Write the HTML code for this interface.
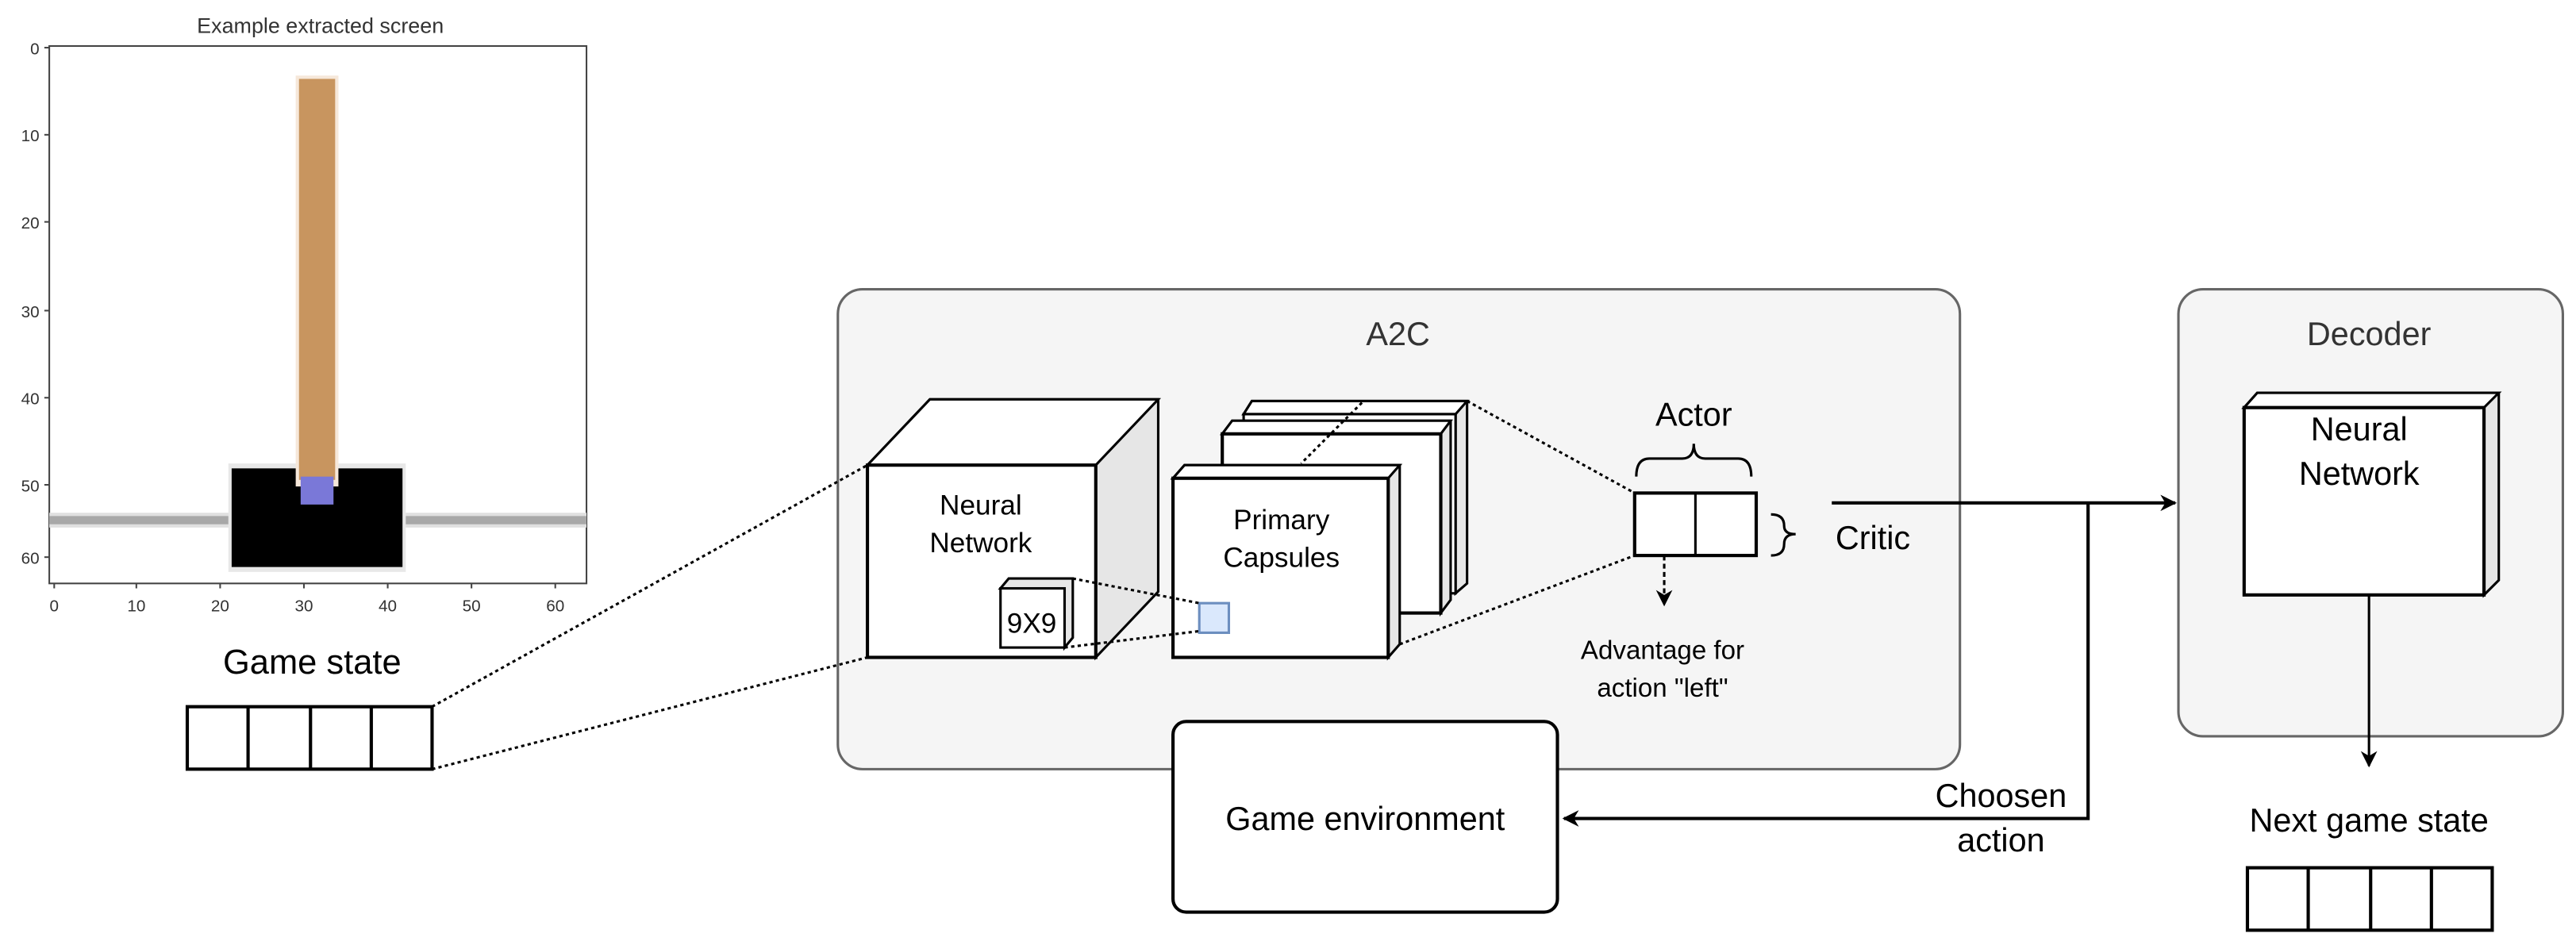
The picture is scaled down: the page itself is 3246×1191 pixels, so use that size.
<!DOCTYPE html>
<html><head><meta charset="utf-8"><style>
html,body{margin:0;padding:0;background:#fff;}
svg{display:block;}
text{font-family:"Liberation Sans",Arial,sans-serif;}
</style></head><body>
<svg width="3246" height="1191" viewBox="0 0 1568 575" preserveAspectRatio="none" xmlns="http://www.w3.org/2000/svg">
<defs>
<marker id="ah" markerWidth="10" markerHeight="10" refX="9" refY="5" orient="auto" markerUnits="userSpaceOnUse">
<path d="M0,0 L10,5 L0,10 L3,5 Z" fill="#000"/>
</marker>
</defs>
<!-- Plot -->
<text x="195" y="20" font-size="13" text-anchor="middle" fill="#333">Example extracted screen</text>
<rect x="30" y="28" width="327" height="327" fill="#fff" stroke="#444" stroke-width="1"/>
<rect x="30" y="312" width="327" height="9" fill="#e0e0e0"/>
<rect x="30" y="314" width="327" height="5" fill="#a8a8a8"/>
<rect x="139" y="282" width="108" height="66" fill="#e8e8e8"/>
<rect x="141" y="285" width="104" height="60" fill="#000"/>
<rect x="180" y="46" width="26" height="250" fill="#f6e8da"/>
<rect x="182" y="48" width="22" height="244" fill="#c8955f"/>
<rect x="183" y="290" width="20" height="17" fill="#7a78d8"/>
<g font-size="10" fill="#333" text-anchor="end">
<text x="24" y="33">0</text><text x="24" y="86">10</text><text x="24" y="139">20</text><text x="24" y="193">30</text><text x="24" y="246">40</text><text x="24" y="299">50</text><text x="24" y="343">60</text>
</g>
<g stroke="#444" stroke-width="1">
<line x1="27" y1="29" x2="30" y2="29"/><line x1="27" y1="82" x2="30" y2="82"/><line x1="27" y1="135" x2="30" y2="135"/><line x1="27" y1="189" x2="30" y2="189"/><line x1="27" y1="242" x2="30" y2="242"/><line x1="27" y1="295" x2="30" y2="295"/><line x1="27" y1="339" x2="30" y2="339"/>
<line x1="33" y1="355" x2="33" y2="358"/><line x1="83" y1="355" x2="83" y2="358"/><line x1="134" y1="355" x2="134" y2="358"/><line x1="185" y1="355" x2="185" y2="358"/><line x1="236" y1="355" x2="236" y2="358"/><line x1="287" y1="355" x2="287" y2="358"/><line x1="338" y1="355" x2="338" y2="358"/>
</g>
<g font-size="10" fill="#333" text-anchor="middle">
<text x="33" y="372">0</text><text x="83" y="372">10</text><text x="134" y="372">20</text><text x="185" y="372">30</text><text x="236" y="372">40</text><text x="287" y="372">50</text><text x="338" y="372">60</text>
</g>
<!-- Game state -->
<text x="190" y="410" font-size="21" text-anchor="middle">Game state</text>
<g fill="#fff" stroke="#000" stroke-width="2">
<rect x="114" y="430" width="149" height="38"/>
</g>
<g stroke="#000" stroke-width="2"><line x1="151" y1="430" x2="151" y2="468"/><line x1="189" y1="430" x2="189" y2="468"/><line x1="226" y1="430" x2="226" y2="468"/></g>
<!-- A2C container -->
<rect x="510" y="176" width="683" height="292" rx="15" fill="#f5f5f5" stroke="#666" stroke-width="1.5"/>
<text x="851" y="210" font-size="20" text-anchor="middle" fill="#333">A2C</text>
<!-- dotted input lines -->
<g stroke="#000" stroke-width="1.5" stroke-dasharray="2,2" fill="none">
<line x1="263" y1="430" x2="528" y2="283"/>
<line x1="263" y1="468" x2="528" y2="400"/>
</g>
<!-- NN cube -->
<path d="M528,283 L566,243 L705,243 L705,360 L667,400 L667,283 Z" fill="#e6e6e6" stroke="#000" stroke-width="1.5"/>
<path d="M528,283 L566,243 L705,243 L667,283 Z" fill="#fff" stroke="#000" stroke-width="1.5"/>
<rect x="528" y="283" width="139" height="117" fill="#fff" stroke="#000" stroke-width="2"/>
<text x="597" y="313" font-size="17" text-anchor="middle">Neural</text>
<text x="597" y="336" font-size="17" text-anchor="middle">Network</text>
<path d="M609,358 L614,352 L653,352 L653,388 L648,394 L648,358 Z" fill="#e6e6e6" stroke="#000" stroke-width="1.5"/>
<rect x="609" y="358" width="39" height="36" fill="#fff" stroke="#000" stroke-width="1.5"/>
<text x="628" y="385" font-size="17" text-anchor="middle">9X9</text>
<!-- capsules -->
<g stroke="#000" stroke-width="1.5">
<path d="M757,252 L762,244 L893,244 L893,355 L886,361 L886,252 Z" fill="#e6e6e6"/>
<path d="M757,252 L762,244 L893,244 L886,252 Z" fill="#fff"/>
<rect x="757" y="252" width="129" height="109" fill="#fff"/>
<path d="M744,264 L750,256 L883,256 L883,365 L877,373 L877,264 Z" fill="#e6e6e6"/>
<path d="M744,264 L750,256 L883,256 L877,264 Z" fill="#fff"/>
<rect x="744" y="264" width="133" height="109" fill="#fff" stroke-width="2"/>
<path d="M714,291 L721,283 L852,283 L852,392 L845,400 L845,291 Z" fill="#e6e6e6"/>
<path d="M714,291 L721,283 L852,283 L845,291 Z" fill="#fff"/>
<rect x="714" y="291" width="131" height="109" fill="#fff" stroke-width="2"/>
</g>
<text x="780" y="322" font-size="17" text-anchor="middle">Primary</text>
<text x="780" y="345" font-size="17" text-anchor="middle">Capsules</text>
<rect x="730" y="367" width="18" height="18" fill="#dae8fc" stroke="#6c8ebf" stroke-width="1.5"/>
<g stroke="#000" stroke-width="1.5" stroke-dasharray="2,2" fill="none">
<line x1="653" y1="352" x2="730" y2="367"/>
<line x1="648" y1="394" x2="730" y2="384"/>
<line x1="829" y1="245" x2="792" y2="282"/>
<line x1="893" y1="244" x2="995" y2="300"/>
<line x1="852" y1="392" x2="995" y2="338"/>
</g>
<!-- Actor -->
<text x="1031" y="259" font-size="20" text-anchor="middle">Actor</text>
<path d="M996,290 Q996,279 1004,279 L1024,279 Q1031,279 1031,270 Q1031,279 1038,279 L1058,279 Q1066,279 1066,290" fill="none" stroke="#000" stroke-width="1.5"/>
<rect x="995" y="300" width="74" height="38" fill="#fff" stroke="#000" stroke-width="2"/>
<line x1="1032" y1="300" x2="1032" y2="338" stroke="#000" stroke-width="1.5"/>
<path d="M1078,313 Q1086,313 1086,320 Q1086,325 1093,325 Q1086,325 1086,331 Q1086,338 1078,338" fill="none" stroke="#000" stroke-width="1.5"/>
<text x="1140" y="334" font-size="20" text-anchor="middle">Critic</text>
<line x1="1013" y1="338" x2="1013" y2="368" stroke="#000" stroke-width="1.5" stroke-dasharray="3,2" marker-end="url(#ah)"/>
<text x="1012" y="401" font-size="16" text-anchor="middle">Advantage for</text>
<text x="1012" y="424" font-size="16" text-anchor="middle">action "left"</text>
<!-- main arrows -->
<line x1="1115" y1="306" x2="1324" y2="306" stroke="#000" stroke-width="2" marker-end="url(#ah)"/>
<polyline points="1271,306 1271,498 952,498" fill="none" stroke="#000" stroke-width="2" marker-end="url(#ah)"/>
<text x="1218" y="491" font-size="20" text-anchor="middle">Choosen</text>
<text x="1218" y="518" font-size="20" text-anchor="middle">action</text>
<!-- Game env -->
<rect x="714" y="439" width="234" height="116" rx="8" fill="#fff" stroke="#000" stroke-width="2"/>
<text x="831" y="505" font-size="20" text-anchor="middle">Game environment</text>
<!-- Decoder -->
<rect x="1326" y="176" width="234" height="272" rx="15" fill="#f5f5f5" stroke="#666" stroke-width="1.5"/>
<text x="1442" y="210" font-size="20" text-anchor="middle" fill="#333">Decoder</text>
<path d="M1366,248 L1374,239 L1521,239 L1521,353 L1512,362 L1512,248 Z" fill="#e6e6e6" stroke="#000" stroke-width="1.5"/>
<path d="M1366,248 L1374,239 L1521,239 L1512,248 Z" fill="#fff" stroke="#000" stroke-width="1.5"/>
<rect x="1366" y="248" width="146" height="114" fill="#fff" stroke="#000" stroke-width="2"/>
<text x="1436" y="268" font-size="20" text-anchor="middle">Neural</text>
<text x="1436" y="295" font-size="20" text-anchor="middle">Network</text>
<line x1="1442" y1="362" x2="1442" y2="466" stroke="#000" stroke-width="1.5" marker-end="url(#ah)"/>
<text x="1442" y="506" font-size="20" text-anchor="middle">Next game state</text>
<rect x="1368" y="528" width="149" height="38" fill="#fff" stroke="#000" stroke-width="2"/>
<g stroke="#000" stroke-width="2"><line x1="1405" y1="528" x2="1405" y2="566"/><line x1="1443" y1="528" x2="1443" y2="566"/><line x1="1480" y1="528" x2="1480" y2="566"/></g>
</svg>
</body></html>
